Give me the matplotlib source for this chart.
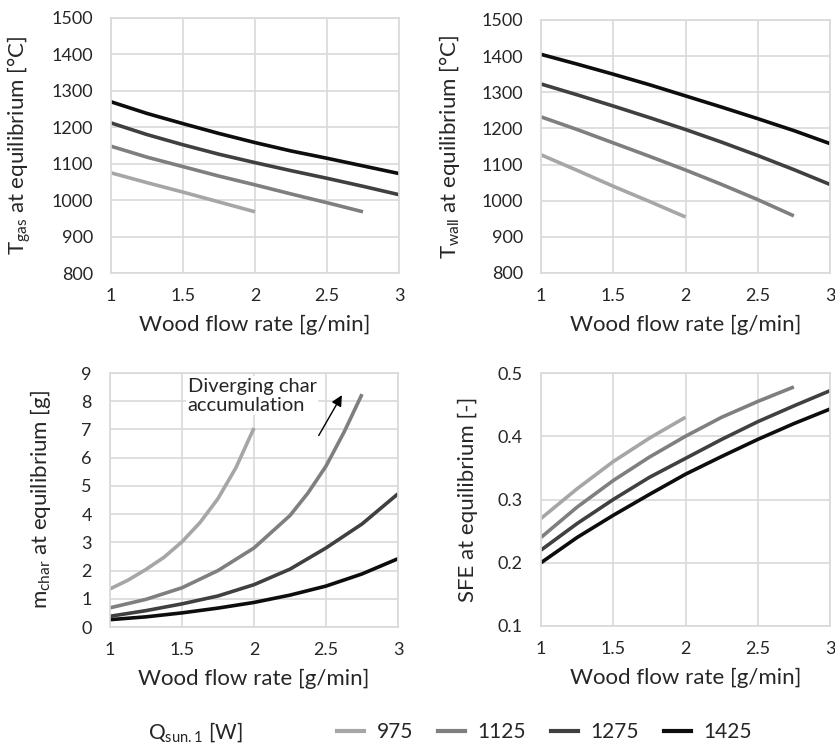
import numpy as np
from matplotlib import pyplot as plt
from matplotlib.lines import Line2D

plt.rcParams['font.family'] = ['Lato', 'DejaVu Sans']
plt.rcParams['mathtext.fontset'] = 'custom'
plt.rcParams['mathtext.rm'] = 'Lato'

# Q_sun,1 levels and their grey shades
q_labels = ['975', '1125', '1275', '1425']
colors = ['#a6a6a6', '#7f7f7f', '#404040', '#0d0d0d']

# wood flow rate [g/min]
x_long = [1, 1.25, 1.5, 1.75, 2, 2.25, 2.5, 2.75, 3]
x_mid = [1, 1.25, 1.5, 1.75, 2, 2.25, 2.5, 2.75]
x_short = [1, 1.25, 1.5, 1.75, 2]
xs = [x_short, x_mid, x_long, x_long]

# T_gas at equilibrium [C]
t_gas = [
    [1075, 1048, 1022, 995, 968],
    [1148, 1118, 1092, 1066, 1042, 1017, 993, 968],
    [1212, 1180, 1152, 1126, 1103, 1081, 1060, 1038, 1015],
    [1270, 1238, 1210, 1183, 1158, 1135, 1115, 1094, 1073],
]

# T_wall at equilibrium [C]
t_wall = [
    [1127, 1084, 1040, 998, 955],
    [1232, 1197, 1160, 1123, 1085, 1045, 1003, 958],
    [1323, 1293, 1262, 1230, 1197, 1162, 1125, 1086, 1045],
    [1405, 1378, 1350, 1321, 1290, 1259, 1227, 1194, 1158],
]

# m_char at equilibrium [g] (finer x steps, the curves bend sharply)
x_char_short = [1, 1.125, 1.25, 1.375, 1.5, 1.625, 1.75, 1.875, 2]
x_char_mid = [1, 1.25, 1.5, 1.75, 2, 2.25, 2.375, 2.5, 2.625, 2.75]
x_char_long = [1, 1.25, 1.5, 1.75, 2, 2.25, 2.5, 2.75, 3]
xs_char = [x_char_short, x_char_mid, x_char_long, x_char_long]
m_char = [
    [1.35, 1.66, 2.04, 2.47, 3.02, 3.7, 4.55, 5.65, 7.05],
    [0.68, 0.98, 1.39, 2.0, 2.8, 3.95, 4.75, 5.7, 6.9, 8.25],
    [0.38, 0.58, 0.82, 1.1, 1.5, 2.05, 2.8, 3.65, 4.72],
    [0.26, 0.36, 0.5, 0.67, 0.87, 1.13, 1.45, 1.88, 2.42],
]

# SFE at equilibrium [-]
sfe = [
    [0.27, 0.317, 0.36, 0.397, 0.43],
    [0.24, 0.288, 0.33, 0.367, 0.40, 0.43, 0.455, 0.478],
    [0.22, 0.262, 0.30, 0.335, 0.365, 0.395, 0.423, 0.448, 0.472],
    [0.20, 0.24, 0.275, 0.308, 0.34, 0.368, 0.395, 0.42, 0.443],
]

TXT = '#262626'


def setup_axes(ax, ylim, yticks, ylabel, ylab_x):
    ax.set_xlim(1, 3)
    ax.set_xticks([1, 1.5, 2, 2.5, 3])
    ax.set_xticklabels(['1', '1.5', '2', '2.5', '3'])
    ax.set_ylim(*ylim)
    ax.set_yticks(yticks)
    ax.grid(True, color='#d9d9d9', linewidth=1.2)
    ax.set_axisbelow(True)
    for s in ax.spines.values():
        s.set_color('#d9d9d9')
        s.set_linewidth(1.2)
    ax.tick_params(length=0, labelsize=13, colors=TXT)
    ax.tick_params(axis='x', pad=11)
    ax.tick_params(axis='y', pad=13)
    ax.set_xlabel('Wood flow rate [g/min]', fontsize=16, color=TXT)
    ax.set_ylabel(ylabel, fontsize=16, color=TXT)
    ax.xaxis.set_label_coords(0.5, -0.165)
    ax.yaxis.set_label_coords(ylab_x, 0.5)


def plot_series(ax, xdata, data):
    for x, y, c in zip(xdata, data, colors):
        ax.plot(x, y, color=c, linewidth=2.6, solid_capstyle='butt')


W, H = 835, 744
fig = plt.figure(figsize=(W / 100, H / 100), dpi=100)


def px_axes(x0, y0, x1, y1):
    return fig.add_axes([x0 / W, 1 - y1 / H, (x1 - x0) / W, (y1 - y0) / H])


ax1 = px_axes(111, 18, 399, 273)
ax2 = px_axes(541, 20, 830, 273)
ax3 = px_axes(110, 373, 398, 627)
ax4 = px_axes(541, 373, 830, 626)

plot_series(ax1, xs, t_gas)
setup_axes(ax1, (800, 1500), range(800, 1501, 100),
           r'T$\mathregular{_{gas}}$ at equilibrium [°C]', -0.27)

plot_series(ax2, xs, t_wall)
setup_axes(ax2, (800, 1500), range(800, 1501, 100),
           r'T$\mathregular{_{wall}}$ at equilibrium [°C]', -0.273)

plot_series(ax3, xs_char, m_char)
setup_axes(ax3, (0, 9), range(0, 10),
           r'm$\mathregular{_{char}}$ at equilibrium [g]', -0.198)
ax3.text(1.54, 8.2, 'Diverging char\naccumulation', fontsize=14.5,
         color=TXT, ha='left', va='center', linespacing=1.15,
         bbox=dict(facecolor='white', edgecolor='none', pad=1))
ax3.annotate('', xy=(2.62, 8.3), xytext=(2.44, 6.7),
             arrowprops=dict(arrowstyle='-|>', color='black', lw=1,
                             mutation_scale=16))

plot_series(ax4, xs, sfe)
setup_axes(ax4, (0.1, 0.5), [0.1, 0.2, 0.3, 0.4, 0.5],
           'SFE at equilibrium [-]', -0.218)

# legend along the bottom
fig.text(148 / W, 1 - 732 / H, r'Q$\mathregular{_{sun.1}}$ [W]', fontsize=15,
         color=TXT, va='center', ha='left')
handles = [Line2D([], [], color=c, linewidth=3) for c in colors]
fig.legend(handles, q_labels, loc='center left',
           bbox_to_anchor=(337 / W, 1 - 732 / H), ncol=4, frameon=False,
           fontsize=15, handlelength=1.3, handletextpad=0.6,
           columnspacing=1.2, borderpad=0, borderaxespad=0,
           labelcolor=TXT)

fig.savefig('out.png', dpi=100)
